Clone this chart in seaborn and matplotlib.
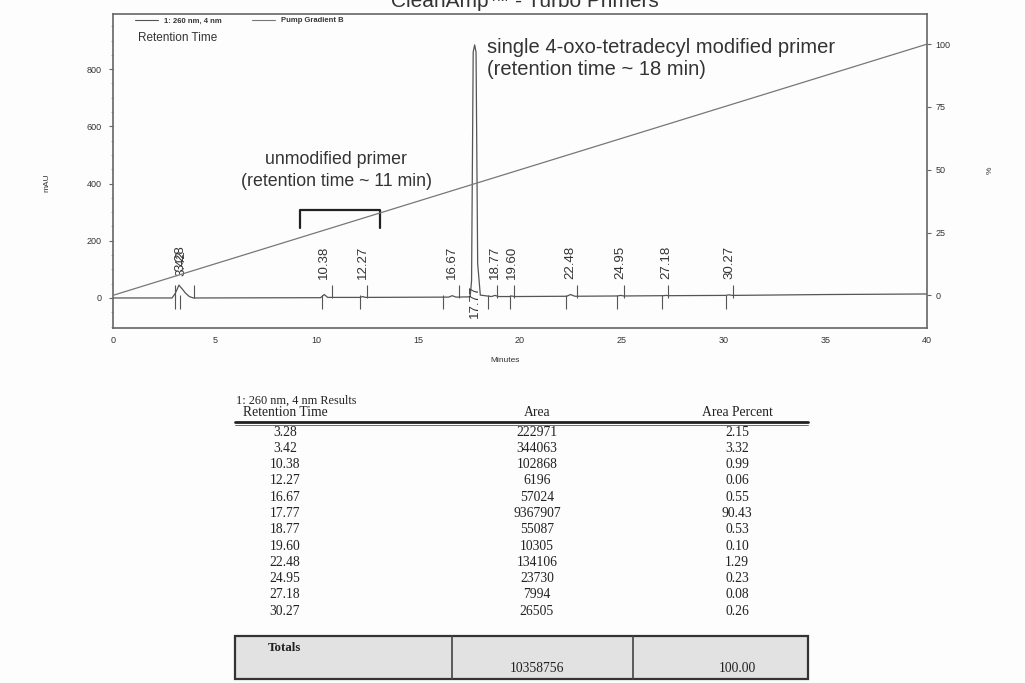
import matplotlib
matplotlib.use("Agg")
import matplotlib.pyplot as plt
from matplotlib.lines import Line2D
from matplotlib.patches import Rectangle
import seaborn as sns

# ---------------- data ----------------
# chromatogram trace (260 nm, mAU)
trace_t = [0, 2.9, 3.05, 3.15, 3.24, 3.32, 3.42, 3.55, 3.75, 3.95,
           10.2, 10.38, 10.55, 12.15, 12.27, 12.4, 16.5, 16.67, 16.85,
           17.55, 17.62, 17.7, 17.77, 17.84, 17.92, 18.05, 18.6, 18.77, 18.95,
           19.5, 19.6, 19.7, 22.3, 22.48, 22.7, 24.8, 24.95, 25.1,
           27.05, 27.18, 27.3, 30.1, 30.27, 30.45, 35, 40]
trace_a = [0, 0, 15, 30, 45, 38, 30, 18, 5, 0,
           1, 12, 2, 2, 5, 2, 3, 8, 3,
           4, 60, 860, 885, 860, 120, 10, 5, 9, 5,
           5, 7, 5, 6, 12, 6, 7, 9, 7,
           8, 9, 8, 9, 11, 9, 12, 14]

# pump gradient B (%)
grad_t = [0, 40]
grad_pct = [0, 100]

# integration event markers (min)
start_marks = [3.05, 3.3, 10.27, 12.14, 16.2, 18.43, 19.5, 22.26, 24.77, 27.0, 30.12]
end_marks = [3.05, 4.0, 10.76, 12.47, 17.0, 18.87, 19.7, 22.8, 25.1, 27.27, 30.47]

# peak table
rt_labels = ["3.28", "3.42", "10.38", "12.27", "16.67", "17.77",
             "18.77", "19.60", "22.48", "24.95", "27.18", "30.27"]
rt_values = [3.28, 3.42, 10.38, 12.27, 16.67, 17.77, 18.77, 19.60, 22.48, 24.95, 27.18, 30.27]
peak_heights = [45, 30, 12, 5, 8, 885, 9, 7, 12, 9, 9, 11]
areas = [222971, 344063, 102868, 6196, 57024, 9367907, 55087, 10305, 134106, 23730, 7994, 26505]
area_pct = [2.15, 3.32, 0.99, 0.06, 0.55, 90.43, 0.53, 0.10, 1.29, 0.23, 0.08, 0.26]
total_area = 10358756
total_pct = 100.00

x_ticks = [0, 5, 10, 15, 20, 25, 30, 35, 40]
y_ticks = [0, 200, 400, 600, 800]
pct_ticks = [0, 25, 50, 75, 100]

# ---------------- style ----------------
sns.set_theme(style="white")
plt.rcParams["font.family"] = ["Liberation Sans", "DejaVu Sans"]

W, H = 1025, 683
fig = plt.figure(figsize=(W / 100, H / 100), dpi=100, facecolor="#fdfdfd")

L, R, T, B = 113, 927, 14, 328
ax = fig.add_axes([L / W, 1 - B / H, (R - L) / W, (B - T) / H])
ax.set_facecolor("#fdfdfd")

tc = "#555555"
sns.lineplot(x=trace_t, y=trace_a, ax=ax, color=tc, lw=0.9, estimator=None, sort=False)
ax.vlines(start_marks, -40, 10, color=tc, lw=0.8)
ax.vlines(end_marks, 0, 45, color=tc, lw=0.8)

ax.set_xlim(0, 40)
ax.set_ylim(-105, 993)
ax.set_xticks(x_ticks)
ax.set_yticks(y_ticks)
ax.set_yticks(range(-100, 1000, 50), minor=True)
ax.set_xlabel("Minutes", fontsize=6, color="#333333")
ax.xaxis.set_label_coords((505 - L) / (R - L), -(357 - B) / (B - T))
ax.set_ylabel("mAU", fontsize=6, color="#333333")
ax.yaxis.set_label_coords(-(L - 50) / (R - L), (B - 183) / (B - T))

for s in ax.spines.values():
    s.set_color("#666666")
    s.set_linewidth(1.2)
ax.tick_params(axis="x", which="major", direction="out", length=3, width=0.8,
               color="#666666", labelsize=6.5, labelcolor="#333333", pad=3)
ax.tick_params(axis="y", which="major", direction="out", length=3, width=0.8,
               color="#666666", labelsize=6.5, labelcolor="#333333", pad=5)
ax.tick_params(axis="y", which="minor", direction="out", length=1.5, width=0.5,
               color="#888888", left=True)

# peak labels (the first two overlap in the original print)
label_x = [3.3, 3.34] + rt_values[2:]
for t, lab, h in zip(label_x, rt_labels, peak_heights):
    if lab == "17.77":
        ax.text(t, -12, lab, rotation=90, ha="center", va="center",
                fontsize=9.5, color="#333333")
    else:
        ax.text(t, max(h, 20) + 48, lab, rotation=90, ha="center", va="bottom",
                fontsize=9.5, color="#333333")

# annotations
ax.text(18.38, 837, "single 4-oxo-tetradecyl modified primer\n(retention time ~ 18 min)",
        ha="left", va="center", fontsize=14.5, color="#333333", linespacing=1.2)
ax.text(10.96, 446, "unmodified primer\n(retention time ~ 11 min)",
        ha="center", va="center", fontsize=12.8, color="#333333", linespacing=1.35)
ax.plot([9.2, 9.2, 13.1, 13.1], [245, 308, 308, 245], color="#222222", lw=1.6)

# right axis: gradient
ax2 = ax.twinx()
sns.lineplot(x=grad_t, y=grad_pct, ax=ax2, color="#777777", lw=0.9)
ax2.set_ylim(-13, 112)
ax2.set_yticks(pct_ticks)
ax2.tick_params(axis="y", direction="out", length=3, width=0.8, color="#666666",
                labelsize=6.5, labelcolor="#333333", pad=3)
ax2.set_ylabel("%", fontsize=6, color="#333333", rotation=90)
ax2.yaxis.set_label_coords(1 + (987 - R) / (R - L), (B - 170) / (B - T))
for s in ax2.spines.values():
    s.set_visible(False)

# legend
handles = [Line2D([], [], color=tc, lw=0.8), Line2D([], [], color="#777777", lw=0.8)]
ax.legend(handles, ["1: 260 nm, 4 nm", "Pump Gradient B"], loc="upper left",
          bbox_to_anchor=(0.025, 0.995), ncol=2, frameon=False,
          prop={"size": 5.5, "weight": "bold"}, handlelength=3, columnspacing=4,
          borderaxespad=0, borderpad=0.2, labelcolor="#333333")
ax.text(0.031, 0.925, "Retention Time", transform=ax.transAxes, fontsize=8.5,
        color="#333333", va="center", ha="left")

# title, cut off at the top edge as in the original
fig.text(0.512, 0.998, "CleanAmp\u2122 - Turbo Primers", ha="center", va="center",
         fontsize=15, color="#333333")

# ---------------- results table ----------------
tax = fig.add_axes([0, 0, 1, 1])
tax.set_xlim(0, W)
tax.set_ylim(H, 0)
tax.axis("off")
tax.patch.set_visible(False)

serif = ["Liberation Serif", "DejaVu Serif"]
c1, c2, c3 = 285, 537, 737
fs = 9.8
tax.text(236, 401, "1: 260 nm, 4 nm Results", family=serif, fontsize=8.8,
         ha="left", va="center", color="#222222")
for x, hdr in zip([c1, c2, c3], ["Retention Time", "Area", "Area Percent"]):
    tax.text(x, 413, hdr, family=serif, fontsize=fs, ha="center", va="center",
             color="#222222")
tax.plot([235, 808], [422, 422], color="#222222", lw=2)
tax.plot([235, 808], [424.5, 424.5], color="#555555", lw=0.6)

row0, dy = 432, 16.3
for i, (r, a, p) in enumerate(zip(rt_labels, areas, area_pct)):
    y = row0 + i * dy
    tax.text(c1, y, r, family=serif, fontsize=fs, ha="center", va="center", color="#222222")
    tax.text(c2, y, f"{a}", family=serif, fontsize=fs, ha="center", va="center", color="#222222")
    tax.text(c3, y, f"{p:.2f}", family=serif, fontsize=fs, ha="center", va="center", color="#222222")

tax.add_patch(Rectangle((235, 636), 573, 43, facecolor="#e2e2e2", edgecolor="#333333", lw=1.6))
tax.plot([452, 452], [636, 679], color="#444444", lw=1.2)
tax.plot([633, 633], [636, 679], color="#444444", lw=1.2)
tax.text(c1, 648, "Totals", family=serif, fontsize=fs - 0.5, ha="center", va="center",
         color="#222222", weight="bold")
tax.text(c2, 669, f"{total_area}", family=serif, fontsize=fs, ha="center", va="center",
         color="#222222")
tax.text(c3, 669, f"{total_pct:.2f}", family=serif, fontsize=fs, ha="center", va="center",
         color="#222222")

fig.savefig("out.png", dpi=100, facecolor=fig.get_facecolor())
